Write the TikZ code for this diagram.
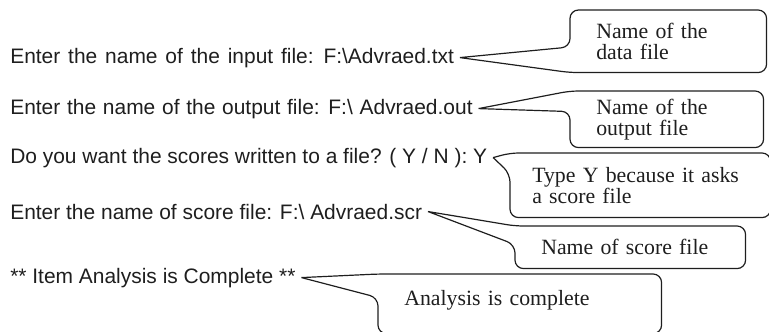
\documentclass[tikz,border=0pt]{standalone}
\usepackage{fontspec}
\setmainfont{Liberation Serif}
\setsansfont{Liberation Sans}
\usetikzlibrary{positioning}
\definecolor{inkCol}{HTML}{1E1E1E}

\begin{document}
\begin{tikzpicture}[
    % Node styles
    prompt/.style={
        anchor=base west,
        inner xsep=4pt,
        inner ysep=0pt,
        text=inkCol,
        font=\sffamily\fontsize{14.9}{17}\selectfont
    },
    gapped/.style={
        execute at begin node={\spaceskip=#1\relax}
    },
    note/.style={
        anchor=north west,
        inner xsep=0.65cm,
        inner ysep=0pt,
        align=left,
        text=inkCol,
        font=\rmfamily\fontsize{15.5}{15}\selectfont
    },
    bubble/.style={
        draw=inkCol,
        line width=0.85pt,
        rounded corners=6pt
    }
]

    \useasboundingbox (0, 0) rectangle (19.225, -8.275);

    % ==== PROGRAM DIALOGUE ====
    \node[prompt, gapped=5.6pt] (input) at (0.11, -1.575) {Enter the name of the input file: F:\textbackslash Advraed.txt};
    \node[prompt, gapped=4.8pt] (output) at (0.11, -2.85) {Enter the name of the output file: F:\textbackslash\ Advraed.out};
    \node[prompt] (choice) at (0.11, -4.075) {Do you want the scores written to a file? ( Y / N ): Y};
    \node[prompt] (scorefile) at (0.11, -5.475) {Enter the name of score file: F:\textbackslash\ Advraed.scr};
    \node[prompt] (done) at (0.11, -7.075) {** Item Analysis is Complete **};

    % ==== CALLOUT TEXTS ====
    \node[note, text width=3.6cm, minimum height=1.55cm] (dataNote) at (14.25, -0.25) {Name of the\\data file};
    \node[note, text width=3.525cm, minimum height=1.4cm] (outNote) at (14.25, -2.275) {Name of the\\output file};
    \node[note, inner xsep=0.55cm, text width=5.4cm, minimum height=1.6cm] (typeNote) at (12.75, -3.825) {Type Y because it asks\\a score file};
    \node[note, text width=4.45cm, minimum height=1.05cm] (scoreNote) at (12.875, -5.65) {Name of score file};
    \node[note, text width=5.775cm, minimum height=1.325cm] (doneNote) at (9.45, -6.85) {Analysis is complete};

    % ==== CALLOUT OUTLINES ====
    \draw[bubble] (input.east) -- ([yshift=-0.925cm]dataNote.north west) -- (dataNote.north west)
        -- (dataNote.north east) -- (dataNote.south east) -- (dataNote.south west) -- (input.east);
    \draw[bubble] (output.east) -- (outNote.north west) -- (outNote.north east) -- (outNote.south east)
        -- (outNote.south west) -- ([yshift=0.9cm]outNote.south west) -- (output.east);
    \draw[bubble] (choice.east) -- (typeNote.north west) -- (typeNote.north east) -- (typeNote.south east)
        -- (typeNote.south west) -- ([yshift=1.1cm]typeNote.south west) -- (choice.east);
    \draw[bubble] (scorefile.east) -- (scoreNote.north west) -- (scoreNote.north east) -- (scoreNote.south east)
        -- (scoreNote.south west) -- ([yshift=0.6cm]scoreNote.south west) -- (scorefile.east);
    % bottom edge runs past the lower border of the picture
    \draw[bubble] (done.east) -- (doneNote.north west) -- (doneNote.north east) -- ([yshift=-0.15cm]doneNote.south east)
        -- ([yshift=-0.15cm]doneNote.south west) -- ([yshift=0.75cm]doneNote.south west) -- (done.east);

\end{tikzpicture}
\end{document}
